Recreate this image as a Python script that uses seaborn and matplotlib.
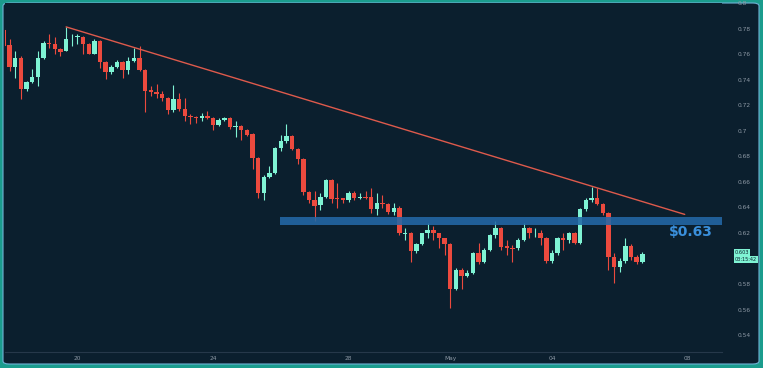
import pandas as pd
import numpy as np
import matplotlib
matplotlib.use("Agg")
import matplotlib.pyplot as plt
import matplotlib.dates as mdates
from matplotlib.patches import FancyBboxPatch
import seaborn as sns

# === Data (4h candles) ===
start = "2022-04-17 20:00"
opens = [0.7790, 0.7673, 0.7500, 0.7571, 0.7329, 0.7383, 0.7422, 0.7571, 0.7688, 0.7681,
         0.7642, 0.7626, 0.7723, 0.7731, 0.7735, 0.7681, 0.7603, 0.7704, 0.7539, 0.7461,
         0.7500, 0.7539, 0.7477, 0.7547, 0.7571, 0.7477, 0.7321, 0.7305, 0.7290, 0.7258,
         0.7165, 0.7251, 0.7173, 0.7118, 0.7110, 0.7102, 0.7118, 0.7102, 0.7048, 0.7087,
         0.7102, 0.7032, 0.7040, 0.7009, 0.6978, 0.6789, 0.6509, 0.6641, 0.6672, 0.6867,
         0.6922, 0.6962, 0.6860, 0.6782, 0.6524, 0.6454, 0.6415, 0.6485, 0.6618, 0.6470,
         0.6470, 0.6454, 0.6516, 0.6470, 0.6485, 0.6485, 0.6384, 0.6438, 0.6423, 0.6360,
         0.6399, 0.6188, 0.6203, 0.6055, 0.6110, 0.6196, 0.6219, 0.6196, 0.6157, 0.6110,
         0.5759, 0.5907, 0.5860, 0.5884, 0.6040, 0.5969, 0.6063, 0.6180, 0.6235, 0.6094,
         0.6079, 0.6079, 0.6141, 0.6235, 0.6196, 0.6203, 0.6157, 0.5977, 0.6040, 0.6157,
         0.6141, 0.6196, 0.6125, 0.6384, 0.6454, 0.6477, 0.6423, 0.6353, 0.6008, 0.5930,
         0.5977, 0.6094, 0.6008, 0.5969]
highs = [0.7805, 0.7720, 0.7626, 0.7587, 0.7391, 0.7485, 0.7626, 0.7704, 0.7759, 0.7735,
         0.7649, 0.7813, 0.7759, 0.7759, 0.7743, 0.7688, 0.7720, 0.7712, 0.7547, 0.7516,
         0.7556, 0.7547, 0.7579, 0.7649, 0.7665, 0.7485, 0.7352, 0.7368, 0.7313, 0.7266,
         0.7360, 0.7297, 0.7258, 0.7134, 0.7118, 0.7141, 0.7157, 0.7110, 0.7102, 0.7110,
         0.7110, 0.7079, 0.7048, 0.7017, 0.6986, 0.6797, 0.6657, 0.6727, 0.6875, 0.6970,
         0.7056, 0.6970, 0.6867, 0.6789, 0.6532, 0.6532, 0.6516, 0.6626, 0.6626, 0.6587,
         0.6477, 0.6532, 0.6532, 0.6509, 0.6532, 0.6555, 0.6516, 0.6493, 0.6431, 0.6431,
         0.6407, 0.6235, 0.6211, 0.6118, 0.6203, 0.6281, 0.6258, 0.6203, 0.6164, 0.6118,
         0.5923, 0.5923, 0.5907, 0.6047, 0.6118, 0.6079, 0.6188, 0.6297, 0.6243, 0.6141,
         0.6102, 0.6157, 0.6274, 0.6243, 0.6235, 0.6219, 0.6172, 0.6063, 0.6172, 0.6196,
         0.6211, 0.6211, 0.6392, 0.6470, 0.6563, 0.6548, 0.6431, 0.6360, 0.6040, 0.6001,
         0.6157, 0.6110, 0.6024, 0.6047]
lows = [0.7657, 0.7469, 0.7414, 0.7251, 0.7313, 0.7375, 0.7352, 0.7564, 0.7649, 0.7603,
        0.7587, 0.7626, 0.7665, 0.7681, 0.7603, 0.7603, 0.7603, 0.7492, 0.7407, 0.7446,
        0.7492, 0.7414, 0.7446, 0.7539, 0.7469, 0.7149, 0.7274, 0.7258, 0.7235, 0.7134,
        0.7149, 0.7157, 0.7079, 0.7056, 0.7063, 0.7079, 0.7095, 0.7009, 0.7040, 0.7079,
        0.7017, 0.6954, 0.6931, 0.6962, 0.6704, 0.6470, 0.6454, 0.6633, 0.6665, 0.6844,
        0.6906, 0.6852, 0.6743, 0.6493, 0.6438, 0.6297, 0.6376, 0.6477, 0.6431, 0.6399,
        0.6431, 0.6446, 0.6454, 0.6462, 0.6462, 0.6353, 0.6337, 0.6392, 0.6345, 0.6337,
        0.6180, 0.6141, 0.5969, 0.6040, 0.6102, 0.6164, 0.6141, 0.6079, 0.6024, 0.5611,
        0.5751, 0.5759, 0.5852, 0.5876, 0.5954, 0.5962, 0.6055, 0.6164, 0.6063, 0.6024,
        0.5969, 0.6063, 0.6133, 0.6157, 0.6172, 0.6102, 0.5962, 0.5962, 0.6024, 0.6063,
        0.6125, 0.6110, 0.6110, 0.6368, 0.6446, 0.6415, 0.6337, 0.5907, 0.5806, 0.5891,
        0.5962, 0.5985, 0.5954, 0.5962]
closes = [0.7665, 0.7500, 0.7571, 0.7329, 0.7383, 0.7422, 0.7571, 0.7688, 0.7681, 0.7642,
          0.7618, 0.7720, 0.7727, 0.7743, 0.7681, 0.7603, 0.7704, 0.7539, 0.7461, 0.7500,
          0.7539, 0.7477, 0.7547, 0.7571, 0.7477, 0.7313, 0.7305, 0.7290, 0.7258, 0.7165,
          0.7251, 0.7173, 0.7118, 0.7110, 0.7102, 0.7118, 0.7102, 0.7048, 0.7087, 0.7102,
          0.7032, 0.7040, 0.7009, 0.6970, 0.6789, 0.6509, 0.6641, 0.6672, 0.6867, 0.6922,
          0.6962, 0.6860, 0.6782, 0.6524, 0.6454, 0.6407, 0.6485, 0.6618, 0.6462, 0.6462,
          0.6454, 0.6516, 0.6470, 0.6485, 0.6477, 0.6384, 0.6438, 0.6423, 0.6360, 0.6399,
          0.6196, 0.6203, 0.6055, 0.6110, 0.6196, 0.6219, 0.6196, 0.6157, 0.6110, 0.5759,
          0.5907, 0.5860, 0.5884, 0.6040, 0.5969, 0.6063, 0.6180, 0.6235, 0.6086, 0.6079,
          0.6073, 0.6141, 0.6235, 0.6196, 0.6203, 0.6157, 0.5977, 0.6040, 0.6157, 0.6141,
          0.6196, 0.6125, 0.6384, 0.6454, 0.6477, 0.6423, 0.6353, 0.6008, 0.5930, 0.5977,
          0.6094, 0.6008, 0.5969, 0.6032]

# resistance zone and trend line
zone_low, zone_high = 0.6259, 0.6322
zone_label = "$0.63"
trend_prices = [0.7813, 0.6345]
trend_offsets = [11, 120.5]      # in candles from start
zone_from = 48.8                 # candle offset where the zone starts
last_price, last_time = "0.603", "03:15:42"

tick_dates = ["2022-04-20", "2022-04-24", "2022-04-28", "2022-05-01", "2022-05-04", "2022-05-08"]
tick_labels = ["20", "24", "28", "May", "04", "08"]

# === Build frame ===
df = pd.DataFrame({"open": opens, "high": highs, "low": lows, "close": closes})
df["date"] = pd.date_range(start=start, periods=len(df), freq="4h")
df["x"] = mdates.date2num(df["date"])
df["up"] = df["close"] >= df["open"]
step = 4 / 24
t0 = df["x"].iloc[0]

BG = "#0b1f2e"
RED = "#ec4a3e"
TEAL = "#7ff3d4"

sns.set_theme(style="dark", rc={"axes.facecolor": BG, "figure.facecolor": "#1b9c8d"})
plt.rcParams["font.family"] = ["DejaVu Sans"]

fig = plt.figure(figsize=(7.63, 3.68), dpi=100)
W, H = 763, 368
# dark panel inside the teal frame
fig.patches.append(FancyBboxPatch((3 / W, 4 / H), 756 / W, 361 / H,
                                  boxstyle="round,pad=0,rounding_size=0.008",
                                  transform=fig.transFigure, facecolor=BG,
                                  edgecolor="#6fb3d6", linewidth=0.8, zorder=-5))

ax = fig.add_axes([5 / W, 16 / H, 717 / W, 349 / H])
ax.set_zorder(2)
ax.set_facecolor(BG)

# wicks and bodies
for up, color in [(True, TEAL), (False, RED)]:
    d = df[df["up"] == up]
    ax.vlines(d["x"], d["low"], d["high"], color=color, linewidth=0.8, zorder=2)
    ax.bar(d["x"], (d["close"] - d["open"]).abs().clip(lower=0.0005),
           bottom=d[["open", "close"]].min(axis=1), width=step * 0.78,
           color=color, edgecolor=color, linewidth=0, zorder=3)

# trend line
trend = pd.DataFrame({"x": [t0 + o * step for o in trend_offsets], "y": trend_prices})
sns.lineplot(data=trend, x="x", y="y", ax=ax, color="#de5a4c", linewidth=1.0, zorder=4)

# zone
x_left = t0 + 0.18 * step
x_right = t0 + 127.1 * step
ax.fill_between([t0 + zone_from * step, x_right], zone_low, zone_high,
                color="#2368a6", alpha=0.88, linewidth=0, zorder=5)
ax.text(t0 + 121.6 * step, 0.6205, zone_label, color="#3a8fdb", fontsize=10,
        fontweight="bold", ha="center", va="center", zorder=6)

ax.set_xlim(x_left, x_right)
ax.set_ylim(0.52678, 0.79922)

ax.set_yticks([0.54, 0.56, 0.58, 0.62, 0.64, 0.66, 0.68, 0.70, 0.72, 0.74, 0.76, 0.78, 0.80])
ax.set_yticklabels(["0.54", "0.56", "0.58", "0.62", "0.64", "0.66", "0.68", "0.7",
                    "0.72", "0.74", "0.76", "0.78", "0.8"])
ax.yaxis.tick_right()
ax.tick_params(axis="y", length=0, pad=11, labelsize=4.2, labelcolor="#8d99a5")
ax.set_xticks(mdates.date2num(pd.to_datetime(tick_dates)))
ax.set_xticklabels(tick_labels)
ax.tick_params(axis="x", length=0, pad=3, labelsize=4.2, labelcolor="#8d99a5")
ax.set_xlabel("")
ax.set_ylabel("")
ax.grid(False)
for side in ["top", "left", "right"]:
    ax.spines[side].set_visible(False)
ax.spines["bottom"].set_color("#26384a")
ax.spines["bottom"].set_linewidth(0.8)

# last price tag
ax.text(1.018, 0.6045, last_price, transform=ax.get_yaxis_transform(), fontsize=3.6,
        color="#0b1f2e", ha="left", va="center", clip_on=False,
        bbox=dict(boxstyle="square,pad=0.2", facecolor=TEAL, edgecolor="none"))
ax.text(1.018, 0.5995, last_time, transform=ax.get_yaxis_transform(), fontsize=3.6,
        color="#0b1f2e", ha="left", va="center", clip_on=False,
        bbox=dict(boxstyle="square,pad=0.2", facecolor=TEAL, edgecolor="none"))

fig.savefig("out.png", dpi=100, facecolor=fig.get_facecolor())
